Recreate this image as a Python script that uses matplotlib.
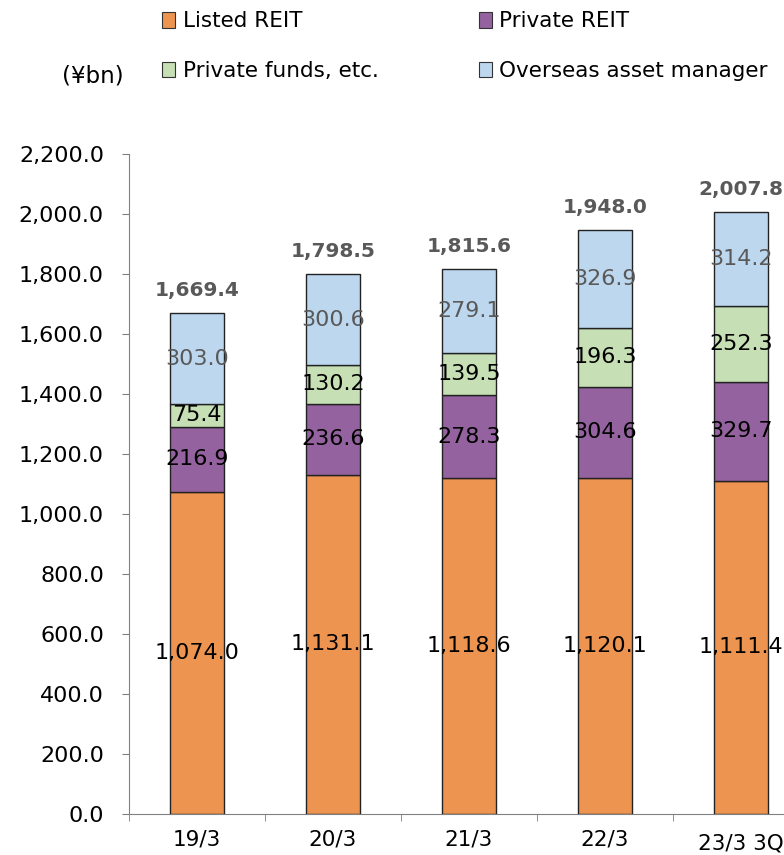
import numpy as np
import matplotlib.pyplot as plt
from matplotlib.patches import Patch

# data (¥bn)
periods = ['19/3', '20/3', '21/3', '22/3', '23/3 3Q']
listed = [1074.0, 1131.1, 1118.6, 1120.1, 1111.4]
private_reit = [216.9, 236.6, 278.3, 304.6, 329.7]
private_funds = [75.4, 130.2, 139.5, 196.3, 252.3]
overseas = [303.0, 300.6, 279.1, 326.9, 314.2]
totals = [1669.4, 1798.5, 1815.6, 1948.0, 2007.8]

series = ['Listed REIT', 'Private REIT', 'Private funds, etc.', 'Overseas asset manager']
colors = ['#ED9550', '#94629E', '#C6DFB4', '#BDD7EE']
label_colors = ['black', 'black', 'black', '#595959']

plt.rcParams['font.family'] = ['Verdana', 'DejaVu Sans']

fig = plt.figure(figsize=(7.84, 8.55), dpi=100)
ax = fig.add_axes([129/784, 1 - 814/855, 680/784, 660/855])

x = np.arange(len(periods))
bottom = np.zeros(len(periods))
for vals, col, lc in zip([listed, private_reit, private_funds, overseas], colors, label_colors):
    vals = np.array(vals)
    ax.bar(x, vals, 0.4, bottom=bottom, color=col, edgecolor='#222222', linewidth=1)
    for xi, b, v in zip(x, bottom, vals):
        ax.text(xi, b + v / 2, f'{v:,.1f}', ha='center', va='center', fontsize=16, color=lc)
    bottom += vals

for xi, t in zip(x, totals):
    ax.text(xi, t + 75, f'{t:,.1f}', ha='center', va='center', fontsize=14.5,
            fontweight='bold', color='#595959')

ax.set_xlim(-0.5, len(periods) - 0.5)
ax.set_ylim(0, 2200)
ax.set_yticks(np.arange(0, 2201, 200))
ax.set_yticklabels([f'{v:,.1f}' for v in np.arange(0, 2201, 200)], fontsize=16)
ax.set_xticks(x)
ax.set_xticklabels(periods, fontsize=15.5)
ax.tick_params(axis='x', length=0, pad=11)
ax.set_xticks(np.arange(-0.5, len(periods), 1), minor=True)
ax.tick_params(axis='x', which='minor', length=5, color='#808080', direction='out')
ax.tick_params(axis='y', length=5, color='#808080', pad=13)
for s in ['top', 'right']:
    ax.spines[s].set_visible(False)
for s in ['left', 'bottom']:
    ax.spines[s].set_color('#808080')
# last label sits a little lower
ax.get_xticklabels()[-1].set_y(-0.007)

handles = [Patch(facecolor=c, edgecolor='#333333', linewidth=0.8) for c in colors]
order = [0, 2, 1, 3]
fig.legend([handles[i] for i in order], [series[i] for i in order], ncol=2,
           loc='upper left', bbox_to_anchor=(143/784, 1 + 8/855), frameon=False,
           fontsize=15.5, handlelength=0.6, handleheight=0.75, handletextpad=0.35,
           labelspacing=1.38, columnspacing=4.65)
fig.text(62/784, 1 - 76/855, '(¥bn)', fontsize=16.5, va='center')

fig.savefig('out.png', dpi=100)
